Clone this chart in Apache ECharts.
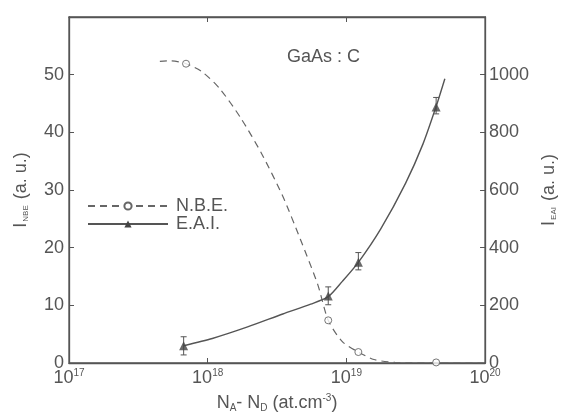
<!DOCTYPE html>
<html>
<head>
<meta charset="utf-8">
<script src="https://cdn.jsdelivr.net/npm/echarts@6/dist/echarts.min.js"></script>
<style>html,body{margin:0;padding:0;background:#fff}#c{width:566px;height:418px}</style>
</head>
<body>
<div id="c"></div>
<script>
// Measured points
const nbeX = [6.98e17, 7.4e18, 1.22e19, 4.44e19];
const nbeY = [51.9, 7.4, 1.9, 0.1];
const eaiX = [6.71e17, 7.4e18, 1.22e19, 4.44e19];
const eaiY = [60, 232, 349, 888];
const eaiErrLow = [28, 202, 323, 864];
const eaiErrHigh = [91, 264, 383, 921];
// Fitted curves
const nbeCurveX = [4.52e17, 5.38e17, 6.98e17, 9.10e17, 1.22e18, 1.73e18, 2.45e18, 3.48e18, 4.65e18, 6.22e18, 7.40e18, 9.35e18, 1.22e19, 1.58e19, 2.24e19, 4.44e19, 9.6e19];
const nbeCurveY = [52.3, 52.4, 51.9, 50.5, 47.6, 42.5, 36.3, 28.9, 21.5, 13.6, 7.4, 3.7, 1.9, 0.6, 0.1, 0, 0];
const eaiCurveX = [6.71e17, 1.08e18, 1.94e18, 3.48e18, 5.53e18, 7.4e18, 9.35e18, 1.22e19, 1.77e19, 2.67e19, 3.57e19, 4.44e19, 5.13e19];
const eaiCurveY = [60, 85, 125, 170, 204, 230, 283, 349, 465, 623, 760, 890, 986];
// Axis settings
const xMin = 1e17, xMax = 1e20;
const xExpMin = 17, xExpMax = 20;
const yLeftMax = 60, yLeftStep = 10;
const yRightMax = 1200, yRightStep = 200;

const zip = (a, b) => a.map((v, i) => [v, b[i]]);
const ink = '#555';
const font = 'Liberation Sans';

const chart = echarts.init(document.getElementById('c'), null, {renderer: 'canvas'});
chart.setOption({
  animation: false,
  backgroundColor: '#fff',
  textStyle: {fontFamily: font},
  grid: {left: 69, right: 69, top: 17, bottom: 48, containLabel: false,
         show: true, borderColor: ink, borderWidth: 1.3, backgroundColor: 'transparent'},
  legend: {
    left: 87, top: 197, padding: 0, orient: 'vertical', itemWidth: 80, itemHeight: 9, itemGap: 0,
    data: ['N.B.E.', 'E.A.I.'],
    textStyle: {fontSize: 18, color: ink, fontFamily: font, padding: [0, 0, 0, 3]},
    selectedMode: false
  },
  graphic: [{
    type: 'text', left: 287, top: 48,
    style: {text: 'GaAs : C', fontSize: 18, fill: ink, fontFamily: font}
  }],
  xAxis: [
    {
      type: 'log', logBase: 10, min: xMin, max: xMax, position: 'bottom',
      axisLine: {show: true, onZero: false, lineStyle: {color: ink, width: 1.3}},
      axisTick: {show: true, inside: true, length: 5, lineStyle: {color: ink}},
      splitLine: {show: false}, minorTick: {show: false},
      name: '{n|N}{s|A}{n|- N}{s|D}{n| (at.cm}{p|-3}{n|)}',
      nameLocation: 'middle', nameGap: 30,
      nameTextStyle: {
        rich: {
          n: {fontSize: 18, color: ink, fontFamily: font},
          s: {fontSize: 10, color: ink, fontFamily: font, padding: [10, 0, 0, 0]},
          p: {fontSize: 10, color: ink, fontFamily: font, padding: [0, 0, 10, 0]}
        }
      },
      axisLabel: {
        margin: 5,
        formatter: v => '{b|10}{s|' + Math.round(Math.log10(v)) + '}',
        rich: {
          b: {fontSize: 18, color: ink, fontFamily: font},
          s: {fontSize: 10, color: ink, fontFamily: font, padding: [0, 0, 10, 0]}
        }
      }
    },
    {
      type: 'value', min: xExpMin, max: xExpMax, interval: 1, position: 'top',
      axisLine: {show: true, onZero: false, lineStyle: {color: ink, width: 1.3}},
      axisTick: {show: true, inside: true, length: 5, lineStyle: {color: ink}},
      splitLine: {show: false}, axisLabel: {show: false}
    }
  ],
  yAxis: [
    {
      type: 'value', min: 0, max: yLeftMax, interval: yLeftStep, position: 'left',
      axisLine: {show: true, onZero: false, lineStyle: {color: ink, width: 1.3}},
      axisTick: {show: true, inside: true, length: 5, lineStyle: {color: ink}},
      splitLine: {show: false},
      axisLabel: {showMaxLabel: false, fontSize: 18, color: ink, margin: 5, fontFamily: font},
      name: '{n|I}{s|NBE}{n| (a. u.)}',
      nameLocation: 'middle', nameGap: 39, nameRotate: 90,
      nameTextStyle: {
        rich: {
          n: {fontSize: 18, color: ink, fontFamily: font},
          s: {fontSize: 8, color: ink, fontFamily: font, padding: [10, 1, 0, 1]}
        }
      }
    },
    {
      type: 'value', min: 0, max: yRightMax, interval: yRightStep, position: 'right',
      axisLine: {show: true, onZero: false, lineStyle: {color: ink, width: 1.3}},
      axisTick: {show: true, inside: true, length: 5, lineStyle: {color: ink}},
      splitLine: {show: false},
      axisLabel: {showMaxLabel: false, fontSize: 18, color: ink, margin: 4, fontFamily: font,
                  formatter: v => String(v)},
      name: '{n|I}{s|EAI}{n| (a. u.)}',
      nameLocation: 'middle', nameGap: 42, nameRotate: 90,
      nameTextStyle: {
        rich: {
          n: {fontSize: 18, color: ink, fontFamily: font},
          s: {fontSize: 8, color: ink, fontFamily: font, padding: [10, 1, 0, 1]}
        }
      }
    }
  ],
  series: [
    {
      name: 'N.B.E.', type: 'line', xAxisIndex: 0, yAxisIndex: 0,
      data: zip(nbeCurveX, nbeCurveY), smooth: 0.25,
      showSymbol: false, symbol: 'emptyCircle', symbolSize: 7,
      itemStyle: {color: '#666', borderColor: '#666'},
      lineStyle: {color: '#666', width: 1.2, type: [7, 5]}, z: 2
    },
    {
      name: 'E.A.I.', type: 'line', xAxisIndex: 0, yAxisIndex: 1,
      data: zip(eaiCurveX, eaiCurveY), smooth: 0.25,
      showSymbol: false, symbol: 'triangle', symbolSize: 9,
      itemStyle: {color: '#444'},
      lineStyle: {color: '#555', width: 1.4}, z: 2
    },
    {
      name: 'nbePts', type: 'scatter', xAxisIndex: 0, yAxisIndex: 0,
      data: zip(nbeX, nbeY), symbol: 'circle', symbolSize: 7,
      itemStyle: {color: '#fff', borderColor: '#555', borderWidth: 1}, z: 4
    },
    {
      name: 'eaiPts', type: 'scatter', xAxisIndex: 0, yAxisIndex: 1,
      data: zip(eaiX, eaiY), symbol: 'triangle', symbolSize: 9,
      itemStyle: {color: '#444'}, z: 4
    },
    {
      name: 'eaiErr', type: 'custom', xAxisIndex: 0, yAxisIndex: 1, z: 3,
      data: eaiX.map((x, i) => [x, eaiErrLow[i], eaiErrHigh[i]]),
      renderItem: (params, api) => {
        const lo = api.coord([api.value(0), api.value(1)]);
        const hi = api.coord([api.value(0), api.value(2)]);
        const w = 3;
        const st = {stroke: '#555', lineWidth: 1};
        return {type: 'group', children: [
          {type: 'line', shape: {x1: lo[0], y1: lo[1], x2: hi[0], y2: hi[1]}, style: st},
          {type: 'line', shape: {x1: lo[0] - w, y1: lo[1], x2: lo[0] + w, y2: lo[1]}, style: st},
          {type: 'line', shape: {x1: hi[0] - w, y1: hi[1], x2: hi[0] + w, y2: hi[1]}, style: st}
        ]};
      }
    }
  ]
});
</script>
</body>
</html>
